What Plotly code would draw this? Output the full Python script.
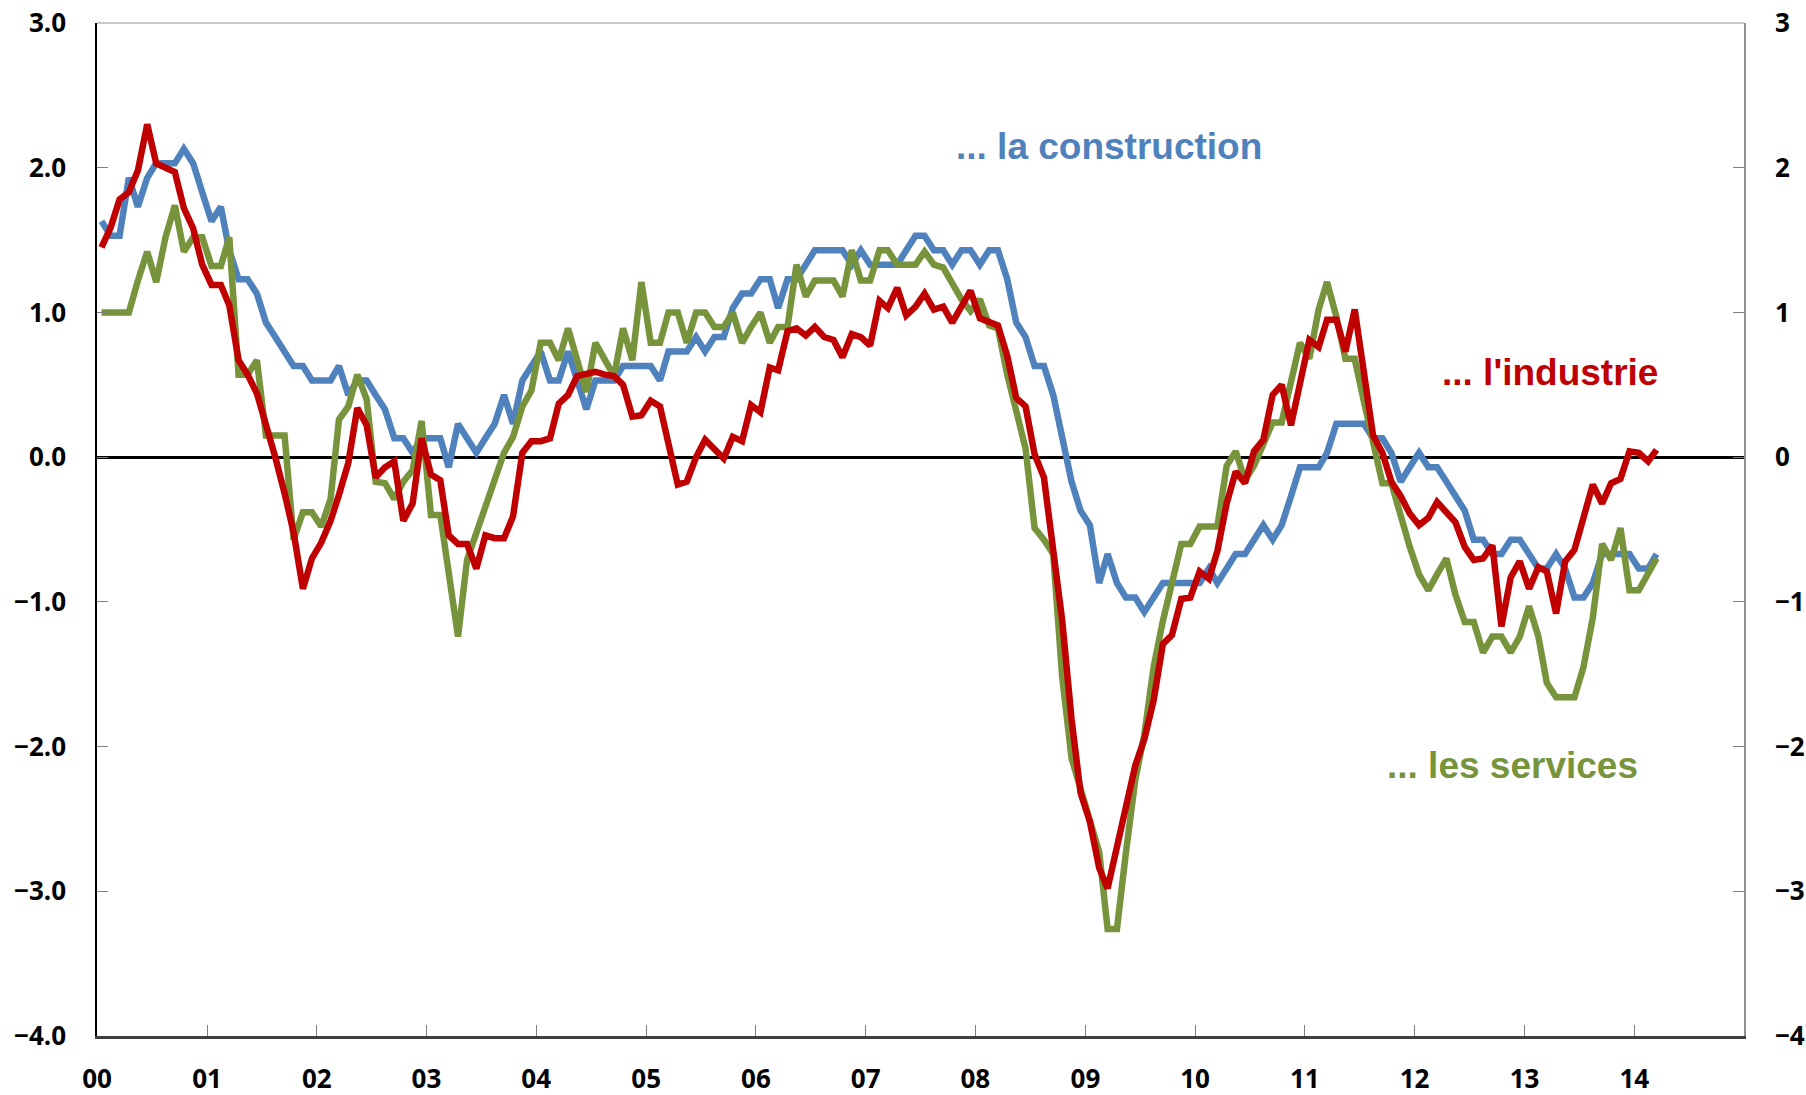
import plotly.graph_objects as go
import pandas as pd

# Mois : janvier 2000 -> mars 2014
months = pd.date_range("2000-01-01", periods=171, freq="MS")
x_mid = months + pd.Timedelta(days=15)

year_ticks = pd.date_range("2000-01-01", "2014-01-01", freq="YS")
year_labels = ["00", "01", "02", "03", "04", "05", "06", "07", "08", "09",
               "10", "11", "12", "13", "14"]

construction = [
    1.63, 1.53, 1.53, 1.93, 1.73, 1.93, 2.03, 2.03, 2.03, 2.13,
    2.03, 1.83, 1.63, 1.73, 1.43, 1.23, 1.23, 1.13, 0.93, 0.83,
    0.73, 0.63, 0.63, 0.53, 0.53, 0.53, 0.63, 0.43, 0.53, 0.53,
    0.43, 0.33, 0.13, 0.13, 0.03, 0.13, 0.13, 0.13, -0.07, 0.23,
    0.13, 0.03, 0.13, 0.23, 0.43, 0.23, 0.53, 0.63, 0.73, 0.53,
    0.53, 0.73, 0.53, 0.33, 0.53, 0.53, 0.53, 0.63, 0.63, 0.63,
    0.63, 0.53, 0.73, 0.73, 0.73, 0.83, 0.73, 0.83, 0.83, 1.03,
    1.13, 1.13, 1.23, 1.23, 1.03, 1.23, 1.23, 1.33, 1.43, 1.43,
    1.43, 1.43, 1.33, 1.43, 1.33, 1.33, 1.33, 1.33, 1.43, 1.53,
    1.53, 1.43, 1.43, 1.33, 1.43, 1.43, 1.33, 1.43, 1.43, 1.23,
    0.93, 0.83, 0.63, 0.63, 0.43, 0.13, -0.17, -0.37, -0.47, -0.87,
    -0.67, -0.87, -0.97, -0.97, -1.07, -0.97, -0.87, -0.87, -0.87, -0.87,
    -0.87, -0.77, -0.87, -0.77, -0.67, -0.67, -0.57, -0.47, -0.57, -0.47,
    -0.27, -0.07, -0.07, -0.07, 0.03, 0.23, 0.23, 0.23, 0.23, 0.13,
    0.13, 0.03, -0.17, -0.07, 0.03, -0.07, -0.07, -0.17, -0.27, -0.37,
    -0.57, -0.57, -0.67, -0.67, -0.57, -0.57, -0.67, -0.77, -0.77, -0.67,
    -0.77, -0.97, -0.97, -0.87, -0.67, -0.67, -0.67, -0.67, -0.77, -0.77, -0.67,
]

services = [
    1.00, 1.00, 1.00, 1.00, 1.22, 1.42, 1.21, 1.52, 1.74, 1.42,
    1.52, 1.52, 1.32, 1.32, 1.52, 0.57, 0.57, 0.67, 0.15, 0.15,
    0.15, -0.57, -0.38, -0.38, -0.48, -0.29, 0.26, 0.35, 0.57, 0.40,
    -0.17, -0.18, -0.29, -0.17, -0.09, 0.25, -0.40, -0.40, -0.80, -1.24,
    -0.71, -0.53, -0.34, -0.16, 0.03, 0.14, 0.35, 0.46, 0.79, 0.79,
    0.67, 0.89, 0.67, 0.45, 0.79, 0.67, 0.56, 0.89, 0.67, 1.21,
    0.79, 0.79, 1.00, 1.00, 0.79, 1.00, 1.00, 0.90, 0.90, 1.00,
    0.79, 0.90, 1.00, 0.79, 0.90, 0.90, 1.33, 1.11, 1.22, 1.22,
    1.22, 1.11, 1.43, 1.22, 1.22, 1.43, 1.43, 1.33, 1.33, 1.33,
    1.42, 1.33, 1.31, 1.20, 1.09, 1.01, 1.09, 0.91, 0.89, 0.57,
    0.33, 0.06, -0.49, -0.57, -0.67, -1.52, -2.08, -2.29, -2.50, -2.73,
    -3.26, -3.26, -2.73, -2.23, -1.92, -1.45, -1.13, -0.86, -0.60, -0.60,
    -0.48, -0.48, -0.48, -0.06, 0.04, -0.16, -0.06, 0.09, 0.24, 0.24,
    0.54, 0.79, 0.68, 1.02, 1.21, 0.97, 0.68, 0.68, 0.39, 0.11,
    -0.18, -0.18, -0.41, -0.62, -0.81, -0.92, -0.81, -0.70, -0.95, -1.14,
    -1.14, -1.35, -1.24, -1.24, -1.35, -1.24, -1.03, -1.24, -1.56, -1.66,
    -1.66, -1.66, -1.45, -1.11, -0.60, -0.71, -0.49, -0.92, -0.92, -0.80, -0.70,
]

industrie = [
    1.45, 1.59, 1.78, 1.83, 1.98, 2.30, 2.03, 2.00, 1.97, 1.72,
    1.58, 1.33, 1.19, 1.19, 1.05, 0.67, 0.57, 0.44, 0.23, 0.00,
    -0.25, -0.52, -0.91, -0.70, -0.59, -0.44, -0.26, -0.04, 0.34, 0.22,
    -0.14, -0.07, -0.03, -0.44, -0.32, 0.13, -0.12, -0.16, -0.54, -0.60,
    -0.60, -0.77, -0.54, -0.56, -0.56, -0.41, 0.03, 0.11, 0.11, 0.13,
    0.37, 0.43, 0.56, 0.57, 0.59, 0.57, 0.56, 0.50, 0.28, 0.29,
    0.39, 0.35, 0.07, -0.19, -0.17, 0.00, 0.12, 0.05, -0.01, 0.14,
    0.11, 0.36, 0.31, 0.62, 0.60, 0.87, 0.89, 0.84, 0.90, 0.83,
    0.81, 0.69, 0.85, 0.83, 0.77, 1.08, 1.03, 1.17, 0.98, 1.04,
    1.13, 1.02, 1.04, 0.93, 1.04, 1.15, 0.96, 0.94, 0.91, 0.70,
    0.41, 0.35, 0.02, -0.14, -0.62, -1.13, -1.81, -2.32, -2.52, -2.84,
    -2.98, -2.68, -2.42, -2.13, -1.95, -1.68, -1.29, -1.23, -0.98, -0.97,
    -0.79, -0.84, -0.65, -0.32, -0.10, -0.18, 0.04, 0.12, 0.43, 0.50,
    0.22, 0.49, 0.81, 0.76, 0.95, 0.95, 0.73, 1.02, 0.56, 0.15,
    0.03, -0.17, -0.27, -0.39, -0.47, -0.42, -0.31, -0.38, -0.45, -0.62,
    -0.71, -0.70, -0.61, -1.17, -0.83, -0.72, -0.91, -0.76, -0.79, -1.08,
    -0.72, -0.64, -0.42, -0.19, -0.32, -0.18, -0.15, 0.04, 0.03, -0.03, 0.05,
]

blue = "#4F81BD"
green = "#77933C"
red = "#C00000"

fig = go.Figure()
fig.add_trace(go.Scatter(x=x_mid, y=construction, mode="lines",
                         line=dict(color=blue, width=6.5), name="construction"))
fig.add_trace(go.Scatter(x=x_mid, y=services, mode="lines",
                         line=dict(color=green, width=6.5), name="services"))
fig.add_trace(go.Scatter(x=x_mid, y=industrie, mode="lines",
                         line=dict(color=red, width=6.5), name="industrie"))
# trace invisible pour faire exister l'axe de droite
fig.add_trace(go.Scatter(x=x_mid, y=industrie, mode="lines", yaxis="y2",
                         line=dict(color="rgba(0,0,0,0)", width=0),
                         hoverinfo="skip", showlegend=False))

tick_font = dict(family="Open Sans, Arial, sans-serif", size=26, color="black", weight="bold")
label_font = "Liberation Sans, Arial, sans-serif"

fig.update_layout(
    width=1806, height=1095,
    margin=dict(l=97, r=62, t=23, b=59),
    paper_bgcolor="white", plot_bgcolor="white",
    showlegend=False,
    xaxis=dict(
        type="date", range=["2000-01-01", "2015-01-01"],
        tickvals=year_ticks, ticktext=year_labels,
        ticks="inside", ticklen=11, tickwidth=1, tickcolor="#808080",
        showline=True, linecolor="#404040", linewidth=2.5,
        showgrid=False, zeroline=False, automargin=False,
        tickfont=tick_font, ticklabelstandoff=18,
    ),
    yaxis=dict(
        range=[-4, 3], dtick=1, tickformat=".1f",
        ticks="inside", ticklen=11, tickwidth=1, tickcolor="#808080",
        showline=True, linecolor="black", linewidth=1.5,
        showgrid=False, zeroline=True, zerolinecolor="black", zerolinewidth=3,
        automargin=False, tickfont=tick_font, ticklabelstandoff=24,
    ),
    yaxis2=dict(
        overlaying="y", side="right", range=[-4, 3], dtick=1,
        ticks="inside", ticklen=11, tickwidth=1, tickcolor="#808080",
        showline=True, linecolor="#909090", linewidth=1.5,
        showgrid=False, zeroline=False, automargin=False,
        tickfont=tick_font, ticklabelstandoff=24,
    ),
)

# bord supérieur du cadre
fig.add_shape(type="line", xref="paper", yref="paper", x0=0, x1=1, y0=1, y1=1,
              line=dict(color="#909090", width=1))

notes = [
    ("... la construction", 0.6145, 0.8776, blue),
    ("... l'industrie", 0.882, 0.6545, red),
    ("... les services", 0.8597, 0.2675, green),
]
for txt, nx, ny, col in notes:
    fig.add_annotation(x=nx, y=ny, xref="paper", yref="paper", showarrow=False,
                       xanchor="center", yanchor="middle", text=txt,
                       font=dict(family=label_font, size=37, color=col, weight="bold"))

fig.write_html("out.html", config={"displayModeBar": False},
               post_script="document.body.style.margin='0';")
